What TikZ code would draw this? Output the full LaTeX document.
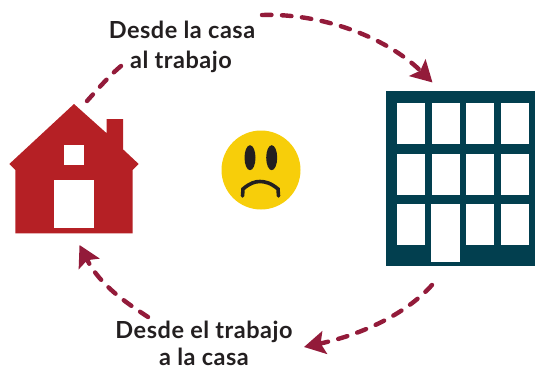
\documentclass[tikz,border=0pt]{standalone}
\usepackage{fontspec}
\setmainfont{Lato}[BoldFont={Lato Bold},BoldFeatures={LetterSpace=2.2}]
\usetikzlibrary{arrows.meta}
\definecolor{housered}{HTML}{B52025}
\definecolor{towerteal}{HTML}{023F4F}
\definecolor{faceyellow}{HTML}{F7CE0A}
\definecolor{arrowred}{HTML}{931B3A}
\definecolor{inkblack}{HTML}{231F20}
\tikzset{
  lbl/.style={anchor=base,inner sep=0pt,font=\bfseries\fontsize{23.5}{26}\selectfont,text=inkblack},
  trip/.style={draw=arrowred,line width=4.4pt,line cap=round,dash pattern=on 9.5pt off 10.5pt},
  triphead/.style={trip,-{Stealth[length=21pt,width=23pt,inset=4pt,fill=arrowred]}},
  hole/.style={fill=white,draw=none}
}
\begin{document}
\begin{tikzpicture}[x=1pt,y=-1pt]
\useasboundingbox (0,0) rectangle (535,369);
% house
\fill[housered] (74,104) -- (106.7,133.3) -- (106.7,119) -- (123,119) -- (123,149.3) -- (138.7,164) -- (132.7,170) -- (132.7,233.3) -- (15.3,233.3) -- (15.3,170) -- (9.3,164) -- cycle;
\fill[hole] (64,145) rectangle (84,165);
\fill[hole] (54,180) rectangle (94,228);
% building
\fill[towerteal] (386,91) rectangle (535,266);
\foreach \xa/\xb in {397/425,432/460,466/494,501/529}
  \foreach \ya/\yb in {103/144,154/195}
    \fill[hole] (\xa,\ya) rectangle (\xb,\yb);
\fill[hole] (397,204) rectangle (425,245);
\fill[hole] (431,204) rectangle (460,261.7);
\fill[hole] (466,204) rectangle (494,245);
\fill[hole] (501,204) rectangle (529,245);
% face
\fill[faceyellow] (261,170) circle (39.5);
\fill[inkblack] (250,157.7) ellipse (5.5 and 12.5);
\fill[inkblack] (271.7,157.7) ellipse (5.5 and 12.5);
\draw[inkblack,line width=3.6pt,line cap=round] (242.5,196) -- (243,189) .. controls (250,183) and (255,181.5) .. (260,181.5) .. controls (265,181.5) and (271,183) .. (278,189) -- (278.5,196);
% labels
\node[lbl] (toplabelA) at (182,39) {Desde la casa};
\node[lbl] (toplabelB) at (181,69) {al trabajo};
\node[lbl] (botlabelA) at (204,338) {Desde el trabajo};
\node[lbl] (botlabelB) at (204,365.5) {a la casa};
% connectors
\coordinate (homeRoof) at (87,101);
\coordinate (homeBase) at (79.5,245);
\coordinate (officeTop) at (432.5,82.5);
\coordinate (officeBase) at (432,285);
\coordinate (labelTopLeft) at (121,66);
\coordinate (labelTopRight) at (262,15);
\coordinate (labelBotRight) at (304,347);
\coordinate (labelBotLeft) at (148,317);
\draw[trip] (labelTopLeft) .. controls (109,76) and (97,90) .. (homeRoof);
\draw[triphead] (labelTopRight) .. controls (320,13) and (385,36) .. (officeTop);
\draw[triphead] (officeBase) .. controls (405,315) and (360,335) .. (labelBotRight);
\draw[triphead] (labelBotLeft) .. controls (125,302) and (100,285) .. (homeBase);
\end{tikzpicture}
\end{document}
